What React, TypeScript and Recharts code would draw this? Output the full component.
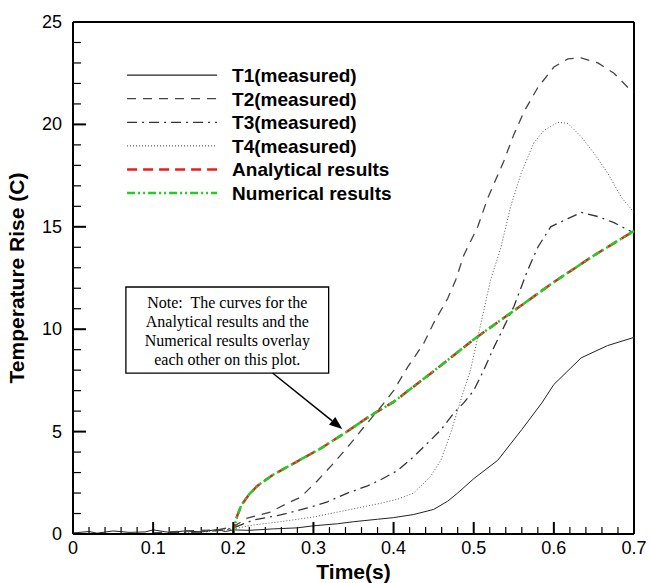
import React from "react";
import { LineChart, Line, XAxis, YAxis, ReferenceLine, ReferenceArea } from "recharts";

// measured and computed temperature rise vs time
const t1Time = [0, 0.02, 0.03, 0.05, 0.07, 0.09, 0.1, 0.12, 0.14, 0.16, 0.18, 0.19, 0.2, 0.22, 0.25, 0.28, 0.3, 0.33, 0.35, 0.38, 0.4, 0.425, 0.45, 0.4675, 0.48, 0.5, 0.53, 0.56, 0.585, 0.6, 0.634, 0.667, 0.7];
const t1Temp = [0.05, 0.12, 0.04, 0.15, 0.08, 0.1, 0.2, 0.08, 0.15, 0.1, 0.22, 0.12, 0.2, 0.18, 0.25, 0.3, 0.4, 0.5, 0.6, 0.72, 0.8, 0.95, 1.2, 1.6, 2.0, 2.7, 3.6, 5.1, 6.4, 7.3, 8.6, 9.2, 9.6];

const t2Time = [0.1, 0.14, 0.18, 0.2, 0.2175, 0.246, 0.2675, 0.284, 0.305, 0.325, 0.346, 0.3625, 0.384, 0.4, 0.4175, 0.4375, 0.45, 0.4675, 0.4775, 0.4875, 0.505, 0.5175, 0.5375, 0.55, 0.5625, 0.58, 0.6, 0.6175, 0.634, 0.655, 0.675, 0.6925, 0.7];
const t2Temp = [0.05, 0.15, 0.2, 0.35, 0.78, 1.07, 1.5, 1.8, 2.6, 3.45, 4.4, 5.2, 6.2, 7.0, 8.15, 9.3, 10.3, 11.5, 12.4, 13.6, 15.0, 16.4, 18.2, 19.5, 20.6, 21.8, 22.8, 23.2, 23.25, 23.0, 22.5, 21.8, 21.6];

const t3Time = [0.12, 0.16, 0.19, 0.2, 0.225, 0.259, 0.2925, 0.3175, 0.3425, 0.3675, 0.384, 0.405, 0.425, 0.4425, 0.459, 0.475, 0.4875, 0.5, 0.5125, 0.525, 0.5375, 0.55, 0.5675, 0.58, 0.596, 0.6175, 0.634, 0.655, 0.675, 0.7];
const t3Temp = [0.05, 0.1, 0.2, 0.3, 0.68, 0.93, 1.27, 1.57, 2.0, 2.35, 2.65, 3.1, 3.77, 4.44, 5.08, 5.9, 6.4, 7.0, 8.0, 9.1, 10.1, 11.1, 12.9, 14.0, 15.0, 15.4, 15.7, 15.5, 15.2, 14.7];

const t4Time = [0.14, 0.18, 0.2, 0.225, 0.259, 0.3, 0.3425, 0.384, 0.405, 0.425, 0.446, 0.459, 0.471, 0.48, 0.4875, 0.496, 0.505, 0.5125, 0.521, 0.534, 0.546, 0.559, 0.575, 0.5875, 0.605, 0.6175, 0.634, 0.65, 0.6675, 0.684, 0.7];
const t4Temp = [0.05, 0.15, 0.25, 0.44, 0.6, 0.83, 1.17, 1.5, 1.7, 2.0, 2.8, 3.6, 4.9, 6.05, 7.0, 8.0, 9.6, 10.9, 12.4, 14.0, 15.97, 17.6, 19.1, 19.7, 20.1, 20.05, 19.4, 18.6, 17.6, 16.45, 15.7];

const analyticalTime = [0.2, 0.201, 0.205, 0.21, 0.22, 0.23, 0.25, 0.28, 0.31, 0.34, 0.37, 0.4, 0.45, 0.5, 0.55, 0.6, 0.65, 0.7];
const analyticalTemp = [0, 0.3, 0.9, 1.4, 1.95, 2.35, 2.9, 3.55, 4.2, 4.95, 5.75, 6.45, 7.95, 9.5, 10.9, 12.3, 13.6, 14.8];

const numericalTime = [0.2, 0.201, 0.205, 0.21, 0.22, 0.23, 0.25, 0.28, 0.31, 0.34, 0.37, 0.4, 0.45, 0.5, 0.55, 0.6, 0.65, 0.7];
const numericalTemp = [0, 0.3, 0.9, 1.4, 1.95, 2.35, 2.9, 3.55, 4.2, 4.95, 5.75, 6.45, 7.95, 9.5, 10.9, 12.3, 13.6, 14.8];

const xMinorTicks = [0.02, 0.04, 0.06, 0.08, 0.12, 0.14, 0.16, 0.18, 0.22, 0.24, 0.26, 0.28, 0.32, 0.34, 0.36, 0.38, 0.42, 0.44, 0.46, 0.48, 0.52, 0.54, 0.56, 0.58, 0.62, 0.64, 0.66, 0.68];
const xLabels = [0, 0.1, 0.2, 0.3, 0.4, 0.5, 0.6, 0.7];
const yMinorTicks = [1, 2, 3, 4, 6, 7, 8, 9, 11, 12, 13, 14, 16, 17, 18, 19, 21, 22, 23, 24];
const yLabels = [0, 5, 10, 15, 20, 25];

const noteLines = ["Note:  The curves for the", "Analytical results and the", "Numerical results overlay", "each other on this plot."];

const zip = (xs: number[], ys: number[]) => xs.map((x, i) => ({ x, y: ys[i] }));

const series = [
  { name: "T1(measured)", data: zip(t1Time, t1Temp), color: "#222", width: 1, dash: undefined },
  { name: "T2(measured)", data: zip(t2Time, t2Temp), color: "#444", width: 1.3, dash: "9 7" },
  { name: "T3(measured)", data: zip(t3Time, t3Temp), color: "#333", width: 1.3, dash: "10 5 2 5" },
  { name: "T4(measured)", data: zip(t4Time, t4Temp), color: "#555", width: 1, dash: "1 2" },
  { name: "Analytical results", data: zip(analyticalTime, analyticalTemp), color: "#e32020", width: 2.5, dash: "10 6" },
  { name: "Numerical results", data: zip(numericalTime, numericalTemp), color: "#22cc22", width: 2.5, dash: "8 3 2 3 2 3" },
];

const font = "'Liberation Sans', Arial, sans-serif";

// tick label y/x arrive 6px past the axis line (default tickSize, no margin)
const XTick = (props: any) => {
  const { x, y, payload } = props;
  const ay = y - 6;
  return (
    <g>
      <line x1={x} x2={x} y1={ay} y2={ay - 12} stroke="#000" strokeWidth={2} />
      <text x={x} y={ay + 20} textAnchor="middle" fontFamily={font} fontSize={18} fill="#000">
        {String(payload.value)}
      </text>
    </g>
  );
};

const YTick = (props: any) => {
  const { x, y, payload } = props;
  const ax = x + 6;
  return (
    <g>
      <line x1={ax} x2={ax + 13} y1={y} y2={y} stroke="#000" strokeWidth={2} />
      <text x={ax - 11} y={y + 6} textAnchor="end" fontFamily={font} fontSize={18} fill="#000">
        {String(payload.value)}
      </text>
    </g>
  );
};

// legend drawn inside the plot, anchored to an invisible reference area
const LegendLabel = (props: any) => {
  const { x, y } = props.viewBox;
  return (
    <g>
      {series.map((s, i) => (
        <g key={s.name}>
          <line x1={x + 7} x2={x + 97} y1={y + 15 + i * 23.6} y2={y + 15 + i * 23.6} stroke={s.color} strokeWidth={s.width > 2 ? 2.5 : 1.3} strokeDasharray={s.dash} />
          <text x={x + 112} y={y + 22 + i * 23.6} fontFamily={font} fontWeight="bold" fontSize={19} fill="#000">
            {s.name}
          </text>
        </g>
      ))}
    </g>
  );
};

const NoteLabel = (props: any) => {
  const { x, y, width } = props.viewBox;
  return (
    <g>
      {noteLines.map((t, i) => (
        <text key={i} x={x + width / 2} y={y + 21 + i * 19} textAnchor="middle" fontFamily="'Liberation Serif', 'Times New Roman', serif" fontSize={16} fill="#000" style={{ whiteSpace: "pre" }}>
          {t}
        </text>
      ))}
    </g>
  );
};

const Arrow = (props: any) => {
  const { x1, y1, x2, y2 } = props;
  if ([x1, y1, x2, y2].some((v) => typeof v !== "number")) return null;
  const a = Math.atan2(y2 - y1, x2 - x1);
  const len = 13;
  const w = 5;
  const bx = x2 - len * Math.cos(a);
  const by = y2 - len * Math.sin(a);
  const p1 = `${bx + w * Math.sin(a)},${by - w * Math.cos(a)}`;
  const p2 = `${bx - w * Math.sin(a)},${by + w * Math.cos(a)}`;
  return (
    <g>
      <line x1={x1} y1={y1} x2={bx} y2={by} stroke="#000" strokeWidth={1.5} />
      <polygon points={`${x2},${y2} ${p1} ${p2}`} fill="#000" />
    </g>
  );
};

// minor tick lengths, in axis units (about 7 px vertical, 8 px horizontal)
const xMinorLen = 0.34;
const yMinorLen = 0.01;

export default function App() {
  return (
    <div style={{ position: "absolute", left: 0, top: 0 }}>
      <LineChart width={649} height={583} margin={{ top: 22, right: 15, left: 0, bottom: 0 }}>
        <XAxis
          type="number"
          dataKey="x"
          domain={[0, 0.7]}
          ticks={xLabels}
          interval={0}
          height={49}
          tickMargin={0}
          tickLine={false}
          tick={<XTick />}
          axisLine={{ stroke: "#000", strokeWidth: 2 }}
          label={{ value: "Time(s)", position: "insideBottom", offset: 4, style: { fontFamily: font, fontWeight: "bold", fontSize: 21, fill: "#000" } }}
        />
        <YAxis
          type="number"
          dataKey="y"
          domain={[0, 25]}
          ticks={yLabels}
          interval={0}
          width={73}
          tickMargin={0}
          tickLine={false}
          tick={<YTick />}
          axisLine={{ stroke: "#000", strokeWidth: 2 }}
          label={{ value: "Temperature Rise (C)", angle: -90, position: "insideLeft", offset: 17, style: { textAnchor: "middle", fontFamily: font, fontWeight: "bold", fontSize: 21, fill: "#000" } }}
        />
        {xMinorTicks.map((v) => (
          <ReferenceLine key={`xm${v}`} ifOverflow="visible" segment={[{ x: v, y: 0 }, { x: v, y: xMinorLen }]} stroke="#000" strokeWidth={1.2} />
        ))}
        {yMinorTicks.map((v) => (
          <ReferenceLine key={`ym${v}`} ifOverflow="visible" segment={[{ x: 0, y: v }, { x: yMinorLen, y: v }]} stroke="#000" strokeWidth={1.2} />
        ))}
        <ReferenceLine y={25} stroke="#000" strokeWidth={2} />
        <ReferenceLine x={0.7} stroke="#000" strokeWidth={2} />
        <ReferenceArea x1={0.05875} x2={0.434} y1={15.1} y2={23.14} fill="none" stroke="none" label={<LegendLabel />} />
        <ReferenceArea x1={0.066} x2={0.319} y1={7.86} y2={12.06} fill="none" stroke="#000" strokeWidth={1.3} label={<NoteLabel />} />
        <ReferenceLine segment={[{ x: 0.249, y: 7.86 }, { x: 0.336, y: 5.13 }]} shape={<Arrow />} />
        {series.map((s) => (
          <Line
            key={s.name}
            data={s.data}
            dataKey="y"
            name={s.name}
            type="linear"
            stroke={s.color}
            strokeWidth={s.width}
            strokeDasharray={s.dash}
            dot={false}
            isAnimationActive={false}
          />
        ))}
      </LineChart>
    </div>
  );
}
